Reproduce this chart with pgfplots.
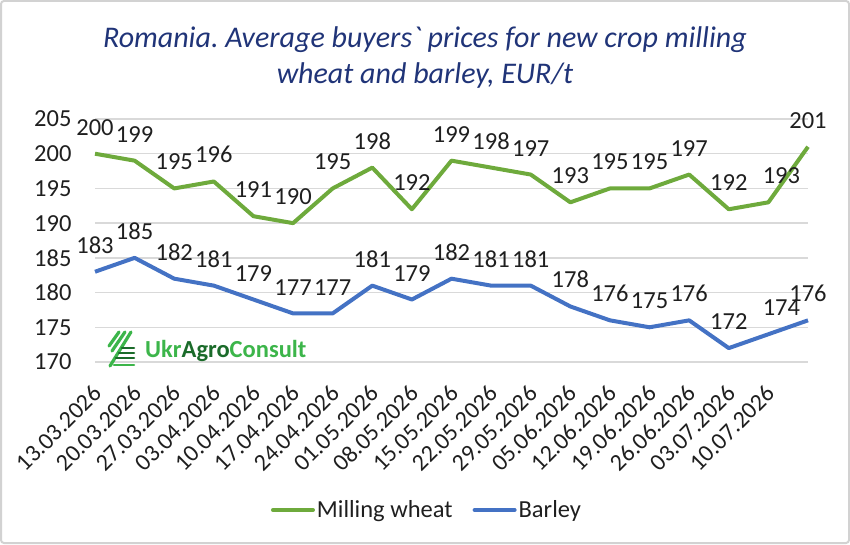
\documentclass[border=0pt]{standalone}
\usepackage{fontspec}
\setmainfont{Carlito}
\usepackage{pgfplots}
\pgfplotsset{compat=1.18}
\definecolor{wheatc}{HTML}{6EAA3C}
\definecolor{barleyc}{HTML}{4472C4}
\definecolor{titleblue}{RGB}{32,52,120}
\definecolor{logolight}{HTML}{3CB54A}
\definecolor{logodark}{HTML}{1B6B2A}
\definecolor{gridc}{HTML}{D9D9D9}
\frenchspacing
\begin{document}
\begin{tikzpicture}[x=1pt,y=1pt]
\path[use as bounding box] (0,0) rectangle (850,544);
\draw[gray!35, line width=2pt, rounded corners=3pt] (1,1) rectangle (849,543);
\node[align=center, font=\fontsize{30}{36}\selectfont\itshape\addfontfeature{Ligatures=TeXOff}, text=titleblue] at (425,486) {Romania. Average buyers` prices for new crop milling\\wheat and barley, EUR/t};
\begin{axis}[
  at={(95pt,182pt)}, anchor=south west,
  scale only axis, width=713pt, height=243pt,
  xmin=0, xmax=18, ymin=170, ymax=205,
  ytick={170,175,...,205},
  xtick={0,...,17},
  xticklabels={13.03.2026,20.03.2026,27.03.2026,03.04.2026,10.04.2026,17.04.2026,24.04.2026,01.05.2026,08.05.2026,15.05.2026,22.05.2026,29.05.2026,05.06.2026,12.06.2026,19.06.2026,26.06.2026,03.07.2026,10.07.2026},
  axis line style={draw=none},
  major tick length=0pt,
  ymajorgrids, grid style={gridc, line width=1.3pt},
  tick label style={font=\fontsize{24.5}{24.5}\selectfont, text=black!88},
  yticklabel style={xshift=-20pt},
  xticklabel style={font=\fontsize{24}{24}\selectfont, xshift=5pt, rotate=45, anchor=east},
  xticklabel shift=25pt,
  /pgf/number format/assume math mode=true,
  clip=false,
  nodes near coords,
  visualization depends on={rawx \as \rawx},
  every node near coord/.append style={font=\fontsize{24.5}{24.5}\selectfont, text=black!88, anchor=south, yshift=13pt, xshift={13*(\rawx==17)}},
  legend style={at={(0.4656,-0.609)}, anchor=center, draw=none, fill=none, legend columns=2, font=\fontsize{24.5}{24.5}\selectfont, text=black!88, /tikz/every even column/.append style={column sep=18pt}},
  legend image code/.code={\draw[#1, line width=4pt, line cap=round] (0pt,0pt) -- (40pt,0pt);},
]
\addplot[wheatc, line width=4pt, line join=round] coordinates {
(0,200) (1,199) (2,195) (3,196) (4,191) (5,190) (6,195) (7,198) (8,192) (9,199) (10,198) (11,197) (12,193) (13,195) (14,195) (15,197) (16,192) (17,193) (18,201)};
\addlegendentry{Milling wheat}
\addplot[barleyc, line width=4pt, line join=round] coordinates {
(0,183) (1,185) (2,182) (3,181) (4,179) (5,177) (6,177) (7,181) (8,179) (9,182) (10,181) (11,181) (12,178) (13,176) (14,175) (15,176) (16,172) (17,174) (18,176)};
\addlegendentry{Barley}
\end{axis}
% logo (decoration)
\begin{scope}[shift={(107,193)}, line cap=round]
\draw[logolight, line width=3.2pt] (12,19) -- (2,5);
\draw[logolight, line width=3.2pt] (18,19) -- (5,0);
\draw[logolight, line width=3.2pt] (24,19) -- (3,-15);
\draw[logodark, line width=2.6pt] (15,3) -- (27,3);
\draw[logodark, line width=2.6pt] (12,-2) -- (27,-2);
\draw[logodark, line width=2.6pt] (9,-7) -- (27,-7);
\draw[logolight, line width=2.6pt] (7,-14) -- (27,-14);
\end{scope}
\node[anchor=west, inner sep=0pt, font=\fontsize{24.5}{24.5}\selectfont\bfseries] at (145,193) {\textcolor{logolight}{Ukr}\textcolor{logodark}{Agro}\textcolor{logolight}{Consult}};
\end{tikzpicture}
\end{document}
